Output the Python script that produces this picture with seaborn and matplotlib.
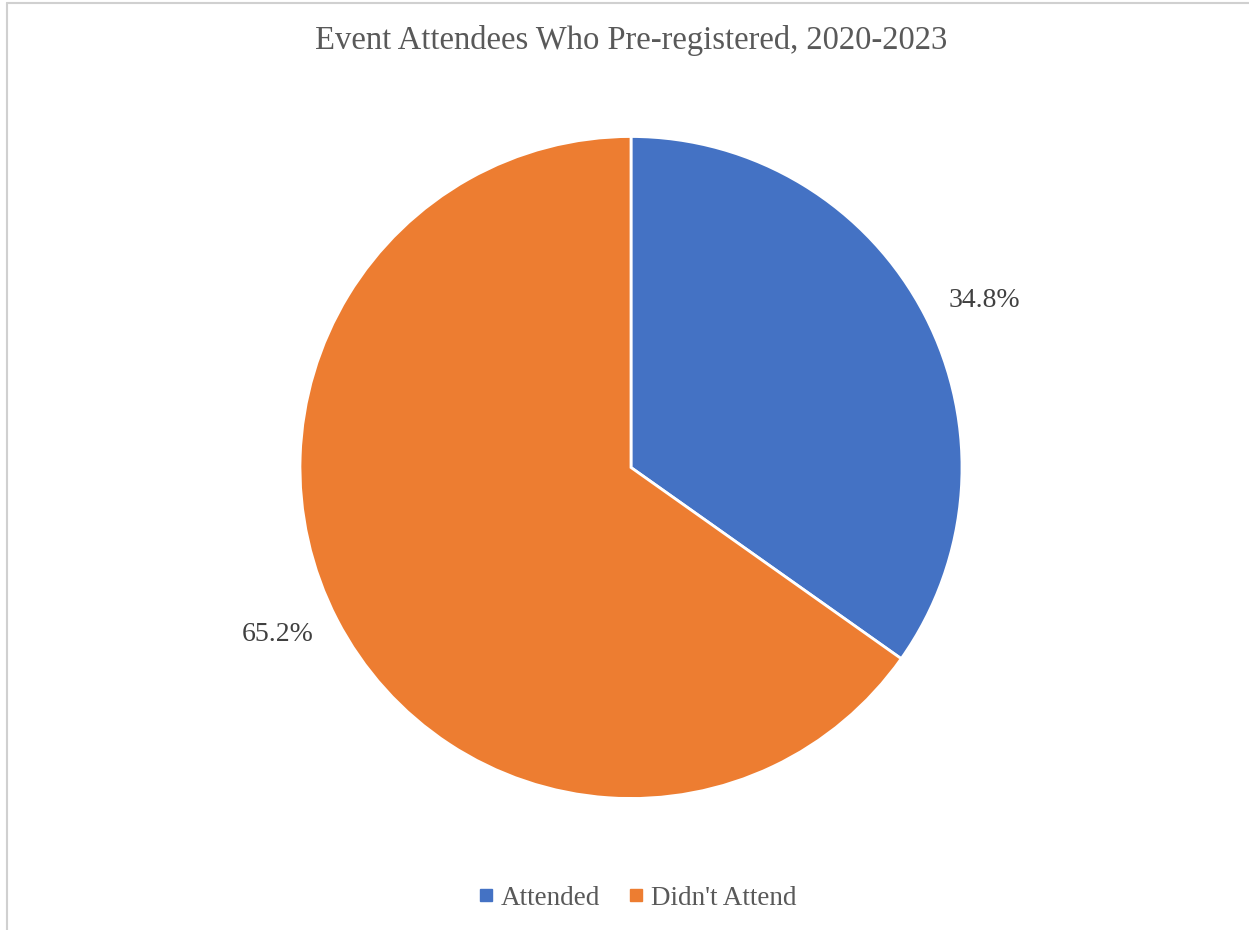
import matplotlib
matplotlib.use("Agg")
import numpy as np
import matplotlib.pyplot as plt
import seaborn as sns
from matplotlib.lines import Line2D

sns.set_theme(style="white")
plt.rcParams['font.family'] = ['Liberation Serif', 'DejaVu Serif']

title = "Event Attendees Who Pre-registered, 2020-2023"
categories = ["Attended", "Didn't Attend"]
values = [34.8, 65.2]
colors = ["#4472C4", "#ED7D31"]
text_color = "#595959"

W, H = 1249, 930
fig = plt.figure(figsize=(W / 100, H / 100), dpi=100)
fig.patch.set_facecolor("white")

# outer light frame (left and top edges visible in reference)
frame = fig.add_axes([0, 0, 1, 1], facecolor="none")
frame.set_xlim(0, W)
frame.set_ylim(H, 0)
frame.axis("off")
frame.plot([7, 7], [3, H], color="#D0D0D0", lw=1.5)
frame.plot([7, W], [3, 3], color="#D0D0D0", lw=1.5)

cx, cy, r = 631, 467.5, 331
ax = fig.add_axes([(cx - r) / W, (H - cy - r) / H, 2 * r / W, 2 * r / H])
wedges, texts, autotexts = ax.pie(
    values, colors=colors, startangle=90, counterclock=False,
    autopct="%.1f%%", pctdistance=1.18,
    wedgeprops=dict(edgecolor="white", linewidth=2),
    textprops=dict(color="#404040", fontsize=20),
)
# Excel-style outside label placement (slightly rotated clockwise from mid-angle)
for w, t in zip(wedges, autotexts):
    mid = np.deg2rad((w.theta1 + w.theta2) / 2 - 2.0)
    t.set_position((1.18 * np.cos(mid), 1.18 * np.sin(mid)))
    t.set_ha("center")
    t.set_va("center")
ax.set_xlim(-1, 1)
ax.set_ylim(-1, 1)
ax.set_aspect("equal")
ax.axis("off")

fig.text(0.505, 1 - 40 / H, title, ha="center", va="center",
         fontsize=23.5, color=text_color)

handles = [Line2D([0], [0], marker="s", linestyle="", markersize=9,
                  markerfacecolor=c, markeredgecolor=c) for c in colors]
fig.legend(handles, categories, loc="center", bbox_to_anchor=(0.509, 1 - 898 / H),
           ncol=2, frameon=False, fontsize=19.5, handletextpad=0.15,
           columnspacing=0.9, labelcolor=text_color, handlelength=0.8)

fig.savefig("out.png", dpi=100, facecolor="white")
